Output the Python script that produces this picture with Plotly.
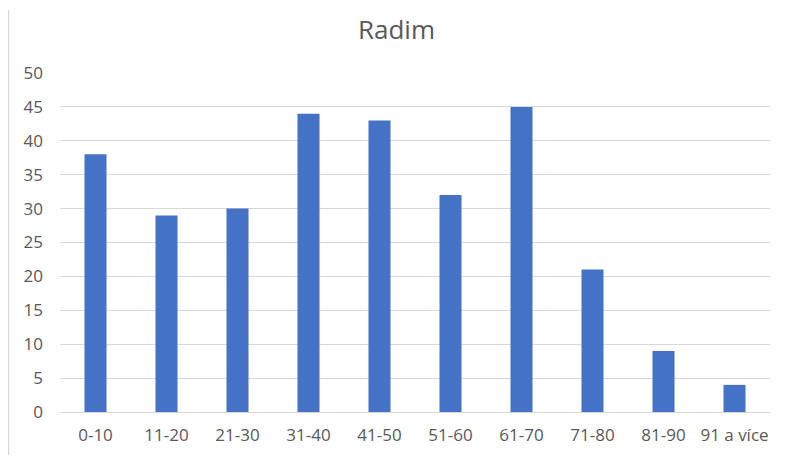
import plotly.graph_objects as go

categories = ["0-10", "11-20", "21-30", "31-40", "41-50", "51-60", "61-70", "71-80", "81-90", "91 a více"]
values = [38, 29, 30, 44, 43, 32, 45, 21, 9, 4]
y_ticks = [0, 5, 10, 15, 20, 25, 30, 35, 40, 45, 50]

W, H = 777, 450
L, R, T, B = 52, 15, 65, 46
PW, PH = W - L - R, H - T - B

fig = go.Figure(go.Bar(x=categories, y=values, marker=dict(color="#4472C4", line=dict(width=0))))

fig.update_layout(
    width=W, height=H,
    margin=dict(l=L, r=R, t=T, b=B),
    paper_bgcolor="white", plot_bgcolor="white",
    font=dict(family="Open Sans, sans-serif", color="#595959", size=17),
    title=dict(text="Radim", x=0.5, xanchor="center", y=1 - 22/H, yanchor="middle",
               yref="container", font=dict(size=26, color="#595959")),
    bargap=0.69,
    showlegend=False,
)
fig.update_xaxes(showgrid=False, showline=False, ticks="", ticklabelstandoff=11, tickfont=dict(size=17))
fig.update_yaxes(range=[0, 50], tickvals=y_ticks, showgrid=True, gridcolor="#D9D9D9", gridwidth=1,
                 zeroline=True, zerolinecolor="#D9D9D9", zerolinewidth=1, showline=False,
                 ticks="", ticklabelstandoff=16, tickfont=dict(size=17))
fig.add_shape(type="line", xref="paper", yref="paper",
              x0=(0.5 - L)/PW, x1=(0.5 - L)/PW, y0=(PH - (H - 3 - T))/PH, y1=(PH + T - 2)/PH,
              line=dict(color="#D9D9D9", width=1.5))
fig.write_html("out.html")
